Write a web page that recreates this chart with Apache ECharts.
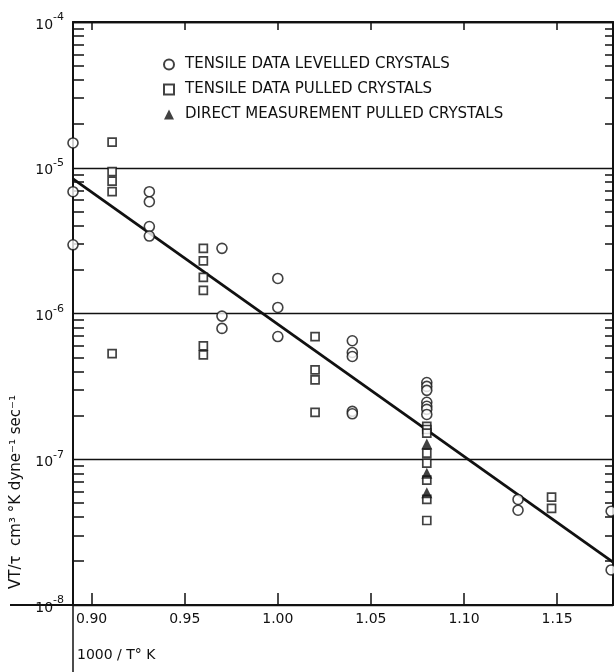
<!DOCTYPE html>
<html>
<head>
<meta charset="utf-8">
<script src="https://cdn.jsdelivr.net/npm/echarts@6/dist/echarts.min.js"></script>
<style>
  html, body { margin: 0; padding: 0; background: #fff; }
  #chart { width: 614px; height: 672px; }
</style>
</head>
<body>
<div id="chart"></div>
<script>
// values: x = 1000/T, y = VT/tau
const levelledX = [0.890, 0.890, 0.890, 0.931, 0.931, 0.931, 0.931, 0.970, 0.970, 0.970,
  1.000, 1.000, 1.000, 1.040, 1.040, 1.040, 1.040, 1.040,
  1.080, 1.080, 1.080, 1.080, 1.080, 1.080, 1.080, 1.129, 1.129, 1.179, 1.179];
const levelledY = [1.48e-5, 6.85e-6, 2.96e-6, 6.85e-6, 5.85e-6, 3.95e-6, 3.4e-6, 2.8e-6, 9.6e-7, 7.9e-7,
  1.74e-6, 1.1e-6, 6.95e-7, 6.5e-7, 5.4e-7, 5.07e-7, 2.13e-7, 2.05e-7,
  3.36e-7, 3.16e-7, 2.97e-7, 2.46e-7, 2.31e-7, 2.2e-7, 2.03e-7, 5.3e-8, 4.47e-8, 4.4e-8, 1.74e-8];

const pulledX = [0.911, 0.911, 0.911, 0.911, 0.911, 0.960, 0.960, 0.960, 0.960, 0.960, 0.960,
  1.020, 1.020, 1.020, 1.020, 1.080, 1.080, 1.080, 1.080, 1.080, 1.080, 1.080, 1.080, 1.147, 1.147];
const pulledY = [1.5e-5, 9.4e-6, 8.1e-6, 6.85e-6, 5.3e-7, 2.8e-6, 2.3e-6, 1.77e-6, 1.44e-6, 6.0e-7, 5.2e-7,
  6.95e-7, 4.1e-7, 3.5e-7, 2.1e-7, 1.68e-7, 1.6e-7, 1.51e-7, 1.1e-7, 9.4e-8, 7.2e-8, 5.3e-8, 3.8e-8, 5.5e-8, 4.6e-8];

const directX = [1.080, 1.080, 1.080];
const directY = [1.27e-7, 8.0e-8, 5.9e-8];

const fitX = [0.89, 1.18];
const fitY = [8.4e-6, 1.97e-8];

const xTicks = [0.90, 0.95, 1.00, 1.05, 1.10, 1.15];
const decades = [-8, -7, -6, -5, -4];
const minorSteps = [2, 3, 4, 5, 6, 7, 8, 9];

const names = [
  'TENSILE DATA LEVELLED CRYSTALS',
  'TENSILE DATA PULLED CRYSTALS',
  'DIRECT MEASUREMENT PULLED CRYSTALS'
];

const FONT = 'DejaVu Sans';
const INK = '#111';
const G = { left: 73, right: 1, top: 22, bottom: 67 };

const zip = (xs, ys) => xs.map((x, i) => [x, ys[i]]);

// minor log ticks, in log10 units
const minorTicks = [];
decades.slice(0, -1).forEach(d => {
  minorSteps.forEach(m => minorTicks.push(d + Math.log10(m)));
});

const chart = echarts.init(document.getElementById('chart'));

const hideAll = {
  axisLine: { show: false },
  axisLabel: { show: false },
  splitLine: { show: false }
};

chart.setOption({
  animation: false,
  backgroundColor: '#fff',
  grid: { left: G.left, right: G.right, top: G.top, bottom: G.bottom, outerBoundsMode: 'none' },
  legend: {
    orient: 'vertical',
    left: 158,
    top: 52,
    itemWidth: 10,
    itemHeight: 10,
    itemGap: 10,
    selectedMode: false,
    data: names,
    textStyle: { fontFamily: FONT, fontSize: 15, color: INK, lineHeight: 14, padding: [0, 0, 0, 6] }
  },
  xAxis: [
    {
      type: 'value',
      position: 'bottom',
      min: 0.89,
      max: 1.18,
      axisLine: { lineStyle: { color: INK, width: 2 } },
      axisTick: { customValues: xTicks, inside: true, length: 12, lineStyle: { color: INK, width: 1.5 } },
      axisLabel: {
        customValues: xTicks,
        margin: 7,
        fontFamily: FONT,
        fontSize: 14,
        color: INK,
        formatter: v => v.toFixed(2)
      },
      splitLine: { show: false }
    },
    {
      type: 'value',
      position: 'top',
      min: 0.89,
      max: 1.18,
      axisLine: { lineStyle: { color: INK, width: 2 } },
      axisTick: { customValues: xTicks, inside: true, length: 8, lineStyle: { color: INK, width: 1.5 } },
      axisLabel: { show: false },
      splitLine: { show: false }
    }
  ],
  yAxis: [
    {
      type: 'log',
      logBase: 10,
      position: 'left',
      min: 1e-8,
      max: 1e-4,
      axisLine: { lineStyle: { color: INK, width: 2 } },
      axisTick: { show: false },
      axisLabel: {
        margin: 9,
        formatter: v => '{b|10}{s|' + Math.round(Math.log10(v)) + '}',
        rich: {
          b: { fontFamily: FONT, fontSize: 14, color: INK, lineHeight: 20, verticalAlign: 'bottom' },
          s: { fontFamily: FONT, fontSize: 11, color: INK, lineHeight: 12, verticalAlign: 'top' }
        }
      },
      splitLine: { lineStyle: { color: INK, width: 1.4 } }
    },
    Object.assign({
      type: 'value',
      position: 'left',
      min: -8,
      max: -4,
      axisTick: { customValues: minorTicks, inside: true, length: 11, lineStyle: { color: INK, width: 1.5 } }
    }, hideAll),
    Object.assign({
      type: 'value',
      position: 'right',
      min: -8,
      max: -4,
      axisTick: { customValues: minorTicks, inside: true, length: 8, lineStyle: { color: INK, width: 1.5 } }
    }, hideAll, { axisLine: { show: true, lineStyle: { color: INK, width: 2 } } })
  ],
  series: [
    {
      type: 'line',
      data: zip(fitX, fitY),
      showSymbol: false,
      lineStyle: { color: INK, width: 2.8 },
      silent: true,
      z: 1
    },
    {
      name: names[0],
      type: 'scatter',
      symbol: 'circle',
      symbolSize: 10,
      data: zip(levelledX, levelledY),
      itemStyle: { color: '#fff', borderColor: INK, borderWidth: 1.6 },
      z: 3
    },
    {
      name: names[1],
      type: 'scatter',
      symbol: 'rect',
      symbolSize: 8,
      data: zip(pulledX, pulledY),
      itemStyle: { color: '#fff', borderColor: INK, borderWidth: 1.7 },
      z: 2
    },
    {
      name: names[2],
      type: 'scatter',
      symbol: 'triangle',
      symbolSize: 11,
      data: zip(directX, directY),
      itemStyle: { color: INK },
      z: 4
    }
  ],
  graphic: [
    // x axis line runs on past the y axis, y axis line runs down past the x axis
    { type: 'line', shape: { x1: 10, y1: 672 - G.bottom, x2: G.left, y2: 672 - G.bottom }, style: { stroke: INK, lineWidth: 2 } },
    { type: 'line', shape: { x1: G.left, y1: 672 - G.bottom, x2: G.left, y2: 672 }, style: { stroke: INK, lineWidth: 1.5 } },
    {
      type: 'text', left: 77, top: 648,
      style: { text: '1000 / T° K', fontFamily: FONT, fontSize: 14, fill: INK }
    },
    {
      type: 'text', x: 16, y: 492, rotation: Math.PI / 2,
      style: {
        text: 'VT/τ  cm³ °K dyne⁻¹ sec⁻¹',
        fontFamily: FONT, fontSize: 15, fill: INK, align: 'center', verticalAlign: 'middle'
      }
    }
  ]
});
</script>
</body>
</html>
